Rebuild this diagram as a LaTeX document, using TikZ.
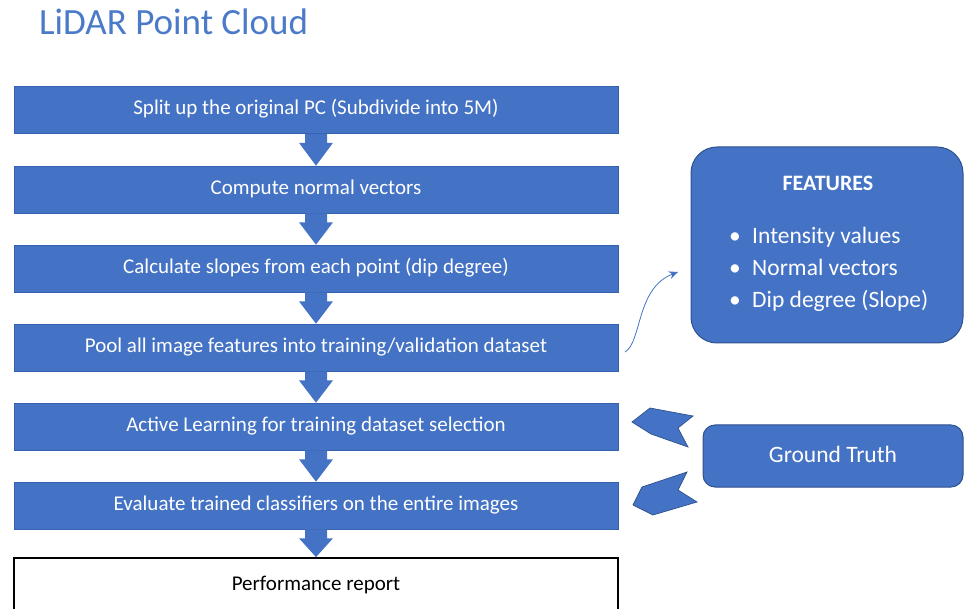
\documentclass[tikz,border=0pt]{standalone}
\usepackage{fontspec}
\setmainfont{Carlito}
\usetikzlibrary{calc,arrows.meta}
\definecolor{boxblue}{HTML}{4472C4}
\definecolor{edgeblue}{HTML}{3460AE}
\definecolor{darkedge}{HTML}{2F528F}
\definecolor{titleblue}{HTML}{4A7AC8}
\tikzset{
  stepbox/.style={rectangle, fill=boxblue, draw=edgeblue, line width=0.6pt, minimum width=604pt, minimum height=47pt, inner sep=0pt, text height=14pt, text depth=4pt, text=white, font=\fontsize{21}{24}\selectfont},
  reportbox/.style={rectangle, fill=white, draw=black, line width=1.8pt, minimum width=604pt, minimum height=54pt, inner sep=0pt, text height=14pt, text depth=4pt, text=black, font=\fontsize{21}{24}\selectfont},
  sidebox/.style={rectangle, rounded corners=12pt, fill=boxblue, draw=darkedge, line width=1pt, inner sep=0pt, text=white},
  chev/.style={fill=boxblue, draw=darkedge, line width=0.7pt, line join=miter},
  feat/.style={anchor=base west, text=white, inner sep=0pt, font=\fontsize{23.5}{28}\selectfont}
}
\newcommand{\blockarrow}[2]{%
  \fill[boxblue] ($(#1.south)+(-11,0)$) -- ($(#1.south)+(11,0)$) -- ($(#1.south)+(11,9)$) -- ($(#1.south)+(17,9)$) -- (#2.north) -- ($(#1.south)+(-17,9)$) -- ($(#1.south)+(-11,9)$) -- cycle;}
\begin{document}
\begin{tikzpicture}[x=1pt,y=-1pt]
\useasboundingbox (0,0) rectangle (964,609);
\clip (0,0) rectangle (964,609);
\node[anchor=west, text=titleblue, inner sep=0pt, font=\fontsize{37}{42}\selectfont] (title) at (39,22) {LiDAR Point Cloud};

\node[stepbox] (s1) at (316,110) {Split up the original PC (Subdivide into 5M)};
\node[stepbox] (s2) at (316,189.5) {Compute normal vectors};
\node[stepbox] (s3) at (316,268.5) {Calculate slopes from each point (dip degree)};
\node[stepbox] (s4) at (316,347.5) {Pool all image features into training/validation dataset};
\node[stepbox] (s5) at (316,426.5) {Active Learning for training dataset selection};
\node[stepbox] (s6) at (316,505.5) {Evaluate trained classifiers on the entire images};
\node[reportbox] (s7) at (316,585) {Performance report};

\blockarrow{s1}{s2}
\blockarrow{s2}{s3}
\blockarrow{s3}{s4}
\blockarrow{s4}{s5}
\blockarrow{s5}{s6}
\blockarrow{s6}{s7}

% Features box
\node[sidebox, minimum width=272pt, minimum height=196pt, rounded corners=26pt] (feat) at (827,245) {};
\node[text=white, inner sep=0pt, font=\bfseries\fontsize{22}{26}\selectfont] (fth) at (828,183) {FEATURES};
\node[feat] (b1) at (729,244) {\textbullet};
\node[feat] (f1) at (752,244) {Intensity values};
\node[feat] (b2) at (729,276) {\textbullet};
\node[feat] (f2) at (752,276) {Normal vectors};
\node[feat] (b3) at (729,308) {\textbullet};
\node[feat] (f3) at (752,308) {Dip degree (Slope)};

% curved arrow
\coordinate (cstart) at (625,352);
\coordinate (cend) at (678,272);
\draw[boxblue, line width=0.8pt, -{Stealth[length=9pt,width=8pt]}] (cstart) .. controls (642,342) and (636,288) .. (cend);

% Ground truth
\node[sidebox, minimum width=260pt, minimum height=62pt, text height=15pt, text depth=2pt, font=\fontsize{23.5}{28}\selectfont] (gt) at (833,456) {Ground Truth};

% chevrons
\draw[chev] (632,422) -- (650,408) -- (693,416) -- (678,428) -- (688,447) -- (651,434) -- cycle;
\draw[chev] (633,505) -- (642,487) -- (687,472) -- (678,490) -- (697,502) -- (653,515) -- cycle;
\end{tikzpicture}
\end{document}
